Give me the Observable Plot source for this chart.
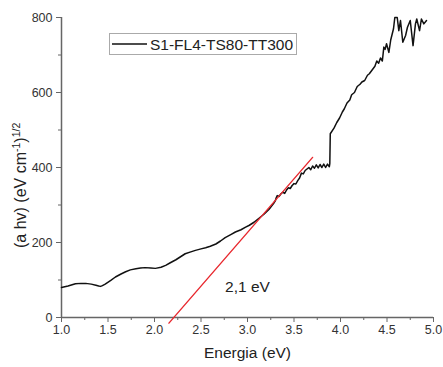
<!DOCTYPE html>
<html>
<head>
<meta charset="utf-8">
<script src="https://cdn.jsdelivr.net/npm/d3@7"></script>
<script src="https://cdn.jsdelivr.net/npm/@observablehq/plot@0.6"></script>
<style>
  html, body { margin: 0; padding: 0; background: #fff; }
  #chart { position: relative; width: 443px; height: 367px; }
  svg { font-family: "Liberation Sans", Arial, sans-serif; }
</style>
</head>
<body>
<div id="chart"></div>
<script>
// ---- data ----
const seriesName = "S1-FL4-TS80-TT300";
const energy = [1.00, 1.07, 1.15, 1.21, 1.26, 1.32, 1.37, 1.40, 1.42, 1.44, 1.47, 1.53, 1.58, 1.64, 1.69, 1.74, 1.80, 1.85, 1.90, 1.96, 2.01, 2.07, 2.12, 2.17, 2.23, 2.28, 2.33, 2.39, 2.44, 2.50, 2.55, 2.60, 2.66, 2.71, 2.76, 2.82, 2.87, 2.93, 2.98, 3.02, 3.07, 3.12, 3.18, 3.23, 3.28, 3.30, 3.31, 3.32, 3.34, 3.36, 3.38, 3.40, 3.42, 3.44, 3.46, 3.48, 3.50, 3.52, 3.54, 3.56, 3.58, 3.60, 3.62, 3.64, 3.66, 3.68, 3.70, 3.72, 3.74, 3.76, 3.78, 3.80, 3.82, 3.84, 3.86, 3.88, 3.885, 3.89, 3.93, 3.96, 3.99, 4.02, 4.04, 4.07, 4.10, 4.12, 4.15, 4.18, 4.21, 4.23, 4.26, 4.29, 4.31, 4.34, 4.37, 4.39, 4.41, 4.43, 4.45, 4.466, 4.48, 4.495, 4.52, 4.54, 4.556, 4.57, 4.584, 4.61, 4.627, 4.645, 4.67, 4.70, 4.72, 4.75, 4.78, 4.806, 4.82, 4.85, 4.87, 4.896, 4.925];
const absorb = [80, 84, 90, 91, 91, 89, 86, 84, 83, 85, 89, 99, 108, 116, 122, 127, 130, 132, 133, 132, 131, 134, 139, 146, 154, 162, 170, 175, 179, 183, 186, 190, 196, 204, 213, 221, 228, 234, 241, 246, 254, 264, 276, 288, 304, 312, 320, 325, 323, 330, 334, 331, 340, 346, 344, 352, 357, 356, 365, 372, 385, 383, 392, 396, 400, 394, 404, 398, 407, 399, 408, 400, 409, 400, 409, 402, 410, 490, 505, 520, 532, 548, 556, 572, 580, 594, 600, 616, 622, 628, 632, 646, 650, 660, 670, 684, 678, 692, 684, 721, 715, 730, 707, 740, 756, 770, 800, 800, 765, 792, 734, 752, 774, 792, 725, 783, 796, 765, 796, 783, 792];
const fitEnergy = [2.155, 3.70];
const fitValue = [-15, 427];
const annotationText = ["2,1 eV"];
const annotationX = [3.0];
const annotationY = [82];
const xMajorTicks = [1.0, 1.5, 2.0, 2.5, 3.0, 3.5, 4.0, 4.5, 5.0];
const xMinorTicks = [1.25, 1.75, 2.25, 2.75, 3.25, 3.75, 4.25, 4.75];
const yMajorTicks = [0, 200, 400, 600, 800];
const yMinorTicks = [100, 300, 500, 700];
const xLabel = "Energia (eV)";

const curve = energy.map((e, i) => ({x: e, y: absorb[i]}));
const fit = fitEnergy.map((e, i) => ({x: e, y: fitValue[i]}));
const notes = annotationText.map((t, i) => ({x: annotationX[i], y: annotationY[i], text: t}));

const axisColor = "#666";
const textColor = "#333";

const plot = Plot.plot({
  width: 443,
  height: 367,
  marginLeft: 61,
  marginRight: 10,
  marginTop: 17,
  marginBottom: 50,
  style: {fontFamily: "Liberation Sans, Arial, sans-serif", background: "#fff"},
  x: {domain: [1, 5]},
  y: {domain: [0, 800]},
  marks: [
    Plot.axisX({ticks: xMajorTicks, tickFormat: d3.format(".1f"), tickSize: 5, tickPadding: 3, stroke: axisColor, color: textColor, fontSize: 12.5, label: null}),
    Plot.axisX({ticks: xMinorTicks, tickFormat: () => "", tickSize: 3, stroke: axisColor, label: null}),
    Plot.axisY({ticks: yMajorTicks, tickSize: 5, tickPadding: 4, stroke: axisColor, color: textColor, fontSize: 12.5, label: null}),
    Plot.axisY({ticks: yMinorTicks, tickFormat: () => "", tickSize: 3, stroke: axisColor, label: null}),
    Plot.ruleY([0], {stroke: axisColor, strokeWidth: 1.5}),
    Plot.ruleX([1], {stroke: axisColor, strokeWidth: 1.5}),
    Plot.line(curve, {x: "x", y: "y", stroke: "#111", strokeWidth: 1.5}),
    Plot.line(fit, {x: "x", y: "y", stroke: "#e8282e", strokeWidth: 1.4}),
    Plot.text(notes, {x: "x", y: "y", text: "text", fontSize: 15.5, fill: "#222"}),
    Plot.text([xLabel], {frameAnchor: "bottom", dy: 40, text: d => d, fontSize: 15.5, fill: "#222"})
  ]
});

document.getElementById("chart").appendChild(plot);

// y-axis label with superscripts
const svg = d3.select(plot);
const yl = svg.append("text")
  .attr("transform", "translate(26,248) rotate(-90)")
  .attr("text-anchor", "start")
  .attr("font-size", 16)
  .attr("fill", "#222");
yl.append("tspan").text("(a hv) (eV cm");
yl.append("tspan").attr("dy", -6).attr("font-size", 10.5).text("-1");
yl.append("tspan").attr("dy", 6).text(")");
yl.append("tspan").attr("dy", -6).attr("font-size", 10.5).text("1/2");

// legend box
const lg = svg.append("g");
lg.append("rect").attr("x", 109.5).attr("y", 33.5).attr("width", 187).attr("height", 21)
  .attr("fill", "#fff").attr("stroke", "#aaa").attr("stroke-width", 1);
lg.append("line").attr("x1", 112).attr("x2", 147).attr("y1", 44).attr("y2", 44)
  .attr("stroke", "#111").attr("stroke-width", 1.4);
lg.append("text").attr("x", 150).attr("y", 49.5).attr("text-anchor", "start")
  .attr("font-size", 15.5).attr("fill", "#222").text(seriesName);
</script>
</body>
</html>
